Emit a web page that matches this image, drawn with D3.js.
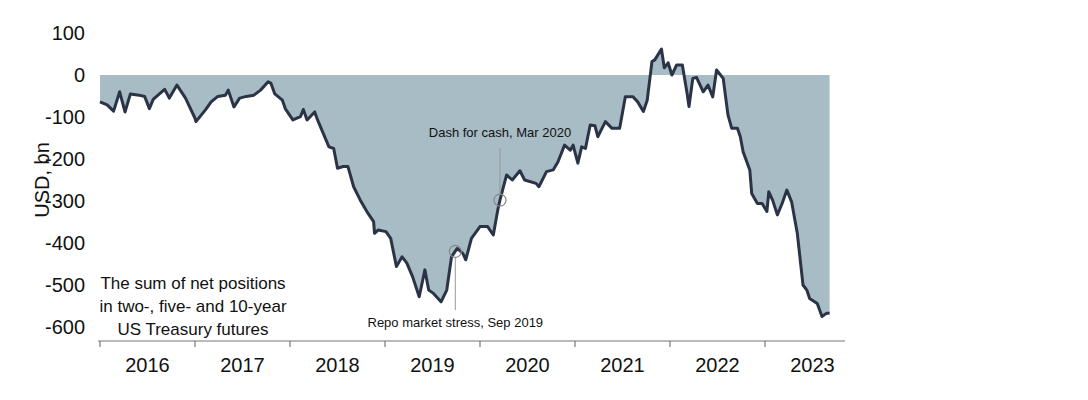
<!DOCTYPE html>
<html><head><meta charset="utf-8">
<script src="https://cdn.jsdelivr.net/npm/d3@7"></script>
<style>body{margin:0;background:#fff}svg{display:block}</style>
</head><body>
<svg id="c" width="1088" height="400"></svg>
<script>
const dates = [2016.00,2016.075,2016.143,2016.207,2016.263,2016.32,2016.41,2016.47,2016.52,2016.56,2016.68,2016.73,2016.81,2016.90,2017.00,2017.01,2017.11,2017.17,2017.24,2017.32,2017.35,2017.41,2017.47,2017.54,2017.62,2017.69,2017.77,2017.80,2017.84,2017.92,2017.95,2018.03,2018.11,2018.14,2018.18,2018.26,2018.29,2018.35,2018.41,2018.46,2018.50,2018.56,2018.61,2018.67,2018.74,2018.82,2018.88,2018.89,2018.93,2019.01,2019.06,2019.12,2019.18,2019.23,2019.29,2019.36,2019.42,2019.46,2019.51,2019.59,2019.65,2019.70,2019.76,2019.82,2019.85,2019.91,2020.00,2020.08,2020.14,2020.19,2020.21,2020.28,2020.34,2020.42,2020.47,2020.59,2020.62,2020.70,
2020.77,2020.82,2020.89,2020.95,2020.98,2021.03,2021.07,2021.11,2021.16,2021.21,2021.24,2021.32,2021.39,2021.47,2021.53,2021.61,2021.66,2021.72,2021.76,2021.81,2021.84,2021.91,2021.94,2021.98,2022.02,2022.07,2022.13,2022.18,2022.20,2022.24,2022.28,2022.35,2022.40,2022.45,2022.49,2022.56,2022.61,2022.65,2022.71,2022.74,2022.77,2022.84,2022.86,2022.92,2022.97,2023.02,2023.04,2023.08,2023.13,2023.18,2023.23,2023.28,2023.34,2023.40,2023.44,2023.47,2023.55,2023.60,2023.65,2023.68];
const values = [-64,-71,-86,-40,-88,-45,-48,-51,-80,-58,-34,-55,-24,-55,-103,-111,-83,-64,-51,-48,-36,-76,-55,-51,-48,-36,-16,-20,-45,-60,-80,-107,-99,-82,-107,-88,-107,-139,-171,-175,-222,-218,-218,-266,-298,-329,-349,-377,-369,-373,-389,-456,-433,-448,-480,-528,-464,-512,-520,-540,-512,-433,-413,-425,-440,-389,-361,-361,-381,-318,-298,-238,-250,-228,-250,-258,-266,-230,
-226,-207,-167,-179,-167,-210,-171,-175,-119,-121,-147,-111,-127,-127,-52,-52,-64,-87,-60,32,36,62,17,29,0,24,24,-44,-75,-8,-6,-40,-24,-52,12,-8,-95,-127,-127,-147,-183,-226,-282,-306,-306,-325,-278,-298,-333,-306,-274,-302,-377,-500,-512,-532,-544,-575,-567,-567];
const yTicks = [100,0,-100,-200,-300,-400,-500,-600];
const yearLabels = ["2016","2017","2018","2019","2020","2021","2022","2023"];

const svg = d3.select("#c");
const x = d3.scaleLinear().domain([2016,2024]).range([100,860]);
const y = d3.scaleLinear().domain([-600,100]).range([327,33]);
const font = "'Liberation Sans Narrow','Liberation Sans',Arial,sans-serif";
const data = dates.map((d,i)=>({t:d,v:values[i]}));

svg.append("path").datum(data)
  .attr("d", d3.area().x(d=>x(d.t)).y0(y(0)).y1(d=>y(d.v)))
  .attr("fill","#a7bcc4");
svg.append("path").datum(data)
  .attr("d", d3.line().x(d=>x(d.t)).y(d=>y(d.v)))
  .attr("fill","none").attr("stroke","#2b3447").attr("stroke-width",3).attr("stroke-linejoin","round");

// y tick labels
svg.selectAll(".yl").data(yTicks).enter().append("text")
  .attr("x",85).attr("y",d=>y(d)).attr("dy","0.35em").attr("text-anchor","end")
  .attr("font-family",font).attr("font-size",20).attr("fill","#111").text(d=>d);
svg.append("text").attr("transform","translate(42,180) rotate(-90)").attr("text-anchor","middle")
  .attr("dy","0.35em").attr("font-family",font).attr("font-size",20).attr("fill","#111").text("USD, bn");

// x axis
const xa = svg.append("g").attr("transform","translate(0,341)");
xa.append("line").attr("x1",98).attr("x2",845).attr("stroke","#777").attr("stroke-width",1.2);
xa.selectAll(".tk").data(d3.range(2016,2024)).enter().append("line")
  .attr("x1",d=>x(d)).attr("x2",d=>x(d)).attr("y1",0).attr("y2",6).attr("stroke","#777").attr("stroke-width",1.2);
xa.selectAll(".xl").data(yearLabels).enter().append("text")
  .attr("x",(d,i)=>x(2016+i+0.5)).attr("y",31).attr("text-anchor","middle")
  .attr("font-family",font).attr("font-size",20).attr("fill","#111").text(d=>d);

// note box text
const note = ["The sum of net positions","in two-, five- and 10-year","US Treasury futures"];
svg.selectAll(".nt").data(note).enter().append("text")
  .attr("x",193).attr("y",(d,i)=>289+i*23).attr("text-anchor","middle")
  .attr("font-family",font).attr("font-size",17).attr("fill","#111").text(d=>d);

// annotations
function annot(t, v, ly, ty, label){
  const cx = x(t), cy = y(v);
  svg.append("line").attr("x1",cx).attr("x2",cx).attr("y1",ly>cy?cy+6:cy-6).attr("y2",ly).attr("stroke","#999").attr("stroke-width",1);
  svg.append("circle").attr("cx",cx).attr("cy",cy).attr("r",6).attr("fill","none").attr("stroke","#888").attr("stroke-width",1.2);
  svg.append("text").attr("x",cx).attr("y",ty).attr("text-anchor","middle")
    .attr("font-family",font).attr("font-size",13).attr("fill","#111").text(label);
}
annot(2019.74,-420,310,327,"Repo market stress, Sep 2019");
annot(2020.21,-298,148,137,"Dash for cash, Mar 2020");
</script>
</body></html>
